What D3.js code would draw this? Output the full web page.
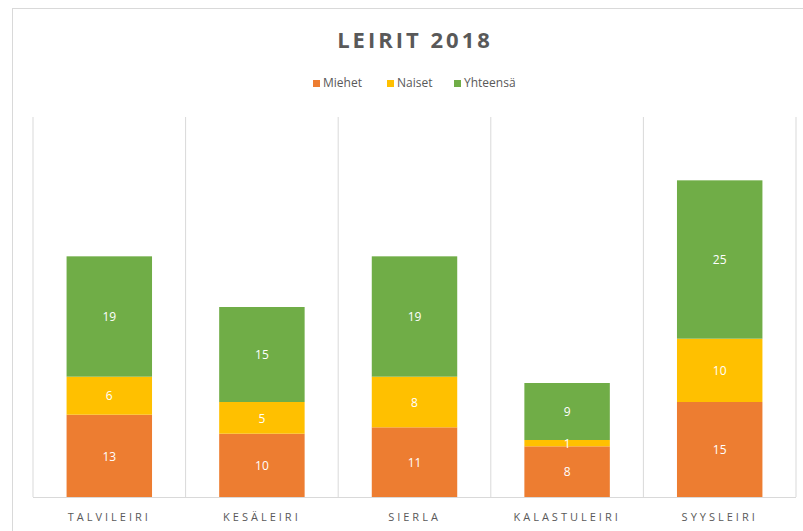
<!DOCTYPE html>
<html>
<head>
<meta charset="utf-8">
<script src="https://cdn.jsdelivr.net/npm/d3@7"></script>
<style>
body { margin: 0; background: #fff; }
text { font-family: "Open Sans", Lato, sans-serif; }
</style>
</head>
<body>
<script>
var w = 803;
var h = 531;

// chart data
var categories = ["TALVILEIRI", "KESÄLEIRI", "SIERLA", "KALASTULEIRI", "SYYSLEIRI"];
var seriesNames = ["Miehet", "Naiset", "Yhteensä"];
var miehet = [13, 10, 11, 8, 15];
var naiset = [6, 5, 8, 1, 10];
var yhteensa = [19, 15, 19, 9, 25];
var colors = ["#ED7D31", "#FFC000", "#70AD47"];

var rows = categories.map(function(c, i) {
    return { cat: c, Miehet: miehet[i], Naiset: naiset[i], "Yhteensä": yhteensa[i] };
});

var svg = d3.select("body").append("svg")
    .attr("width", w)
    .attr("height", h);

// chart frame
svg.append("rect")
    .attr("x", 12.5).attr("y", 8.5)
    .attr("width", 800).attr("height", 540)
    .attr("fill", "none")
    .attr("stroke", "#d9d9d9");

var x = d3.scaleBand()
    .domain(categories)
    .range([33, 796])
    .paddingInner(0.44)
    .paddingOuter(0.22);

var y = d3.scaleLinear()
    .domain([0, 60])
    .range([497, 117]);

// category separator lines
var edges = d3.range(categories.length + 1).map(function(i) { return 33 + i * (763 / categories.length); });
svg.selectAll("line.sep")
    .data(edges)
    .enter().append("line")
    .attr("class", "sep")
    .attr("x1", function(d) { return d; })
    .attr("x2", function(d) { return d; })
    .attr("y1", y(60))
    .attr("y2", y(0))
    .attr("stroke", "#d9d9d9");

var stack = d3.stack().keys(seriesNames)(rows);

// bars
svg.selectAll("g.layer")
    .data(stack)
    .enter().append("g")
    .attr("class", "layer")
    .attr("fill", function(d, i) { return colors[i]; })
    .selectAll("rect")
    .data(function(d) { return d; })
    .enter().append("rect")
    .attr("x", function(d) { return x(d.data.cat); })
    .attr("width", x.bandwidth())
    .attr("y", function(d) { return y(d[1]); })
    .attr("height", function(d) { return y(d[0]) - y(d[1]); });

// value labels drawn on top of all bars
svg.selectAll("g.labels")
    .data(stack)
    .enter().append("g")
    .attr("class", "labels")
    .selectAll("text")
    .data(function(d) { return d; })
    .enter().append("text")
    .attr("x", function(d) { return x(d.data.cat) + x.bandwidth() / 2; })
    .attr("y", function(d) { return (y(d[0]) + y(d[1])) / 2; })
    .attr("dy", "0.4em")
    .attr("text-anchor", "middle")
    .attr("fill", "#fff")
    .attr("font-size", "12px")
    .text(function(d) { return d[1] - d[0]; });

// baseline
svg.append("line")
    .attr("x1", 33).attr("x2", 796)
    .attr("y1", y(0) + 0.5).attr("y2", y(0) + 0.5)
    .attr("stroke", "#d9d9d9");

// x axis labels
var xAxis = svg.append("g")
    .attr("transform", "translate(0," + y(0) + ")")
    .call(d3.axisBottom(x).tickSize(0).tickPadding(16));
xAxis.select(".domain").remove();
xAxis.selectAll("text")
    .attr("font-family", "'Open Sans', sans-serif")
    .attr("font-size", "11px")
    .attr("fill", "#595959")
    .attr("letter-spacing", "3px");

// title
svg.append("text")
    .attr("x", 415)
    .attr("y", 48)
    .attr("text-anchor", "middle")
    .attr("font-size", "22px")
    .attr("font-weight", "bold")
    .attr("letter-spacing", "3px")
    .attr("fill", "#595959")
    .text("LEIRIT 2018");

// legend
var legendX = [313, 387, 454];
var legend = svg.selectAll("g.legend")
    .data(seriesNames)
    .enter().append("g")
    .attr("class", "legend")
    .attr("transform", function(d, i) { return "translate(" + legendX[i] + ",80)"; });
legend.append("rect")
    .attr("width", 7).attr("height", 7)
    .attr("fill", function(d, i) { return colors[i]; });
legend.append("text")
    .attr("x", 10)
    .attr("y", 7)
    .attr("font-size", "12px")
    .attr("fill", "#595959")
    .text(function(d) { return d; });
</script>
</body>
</html>
